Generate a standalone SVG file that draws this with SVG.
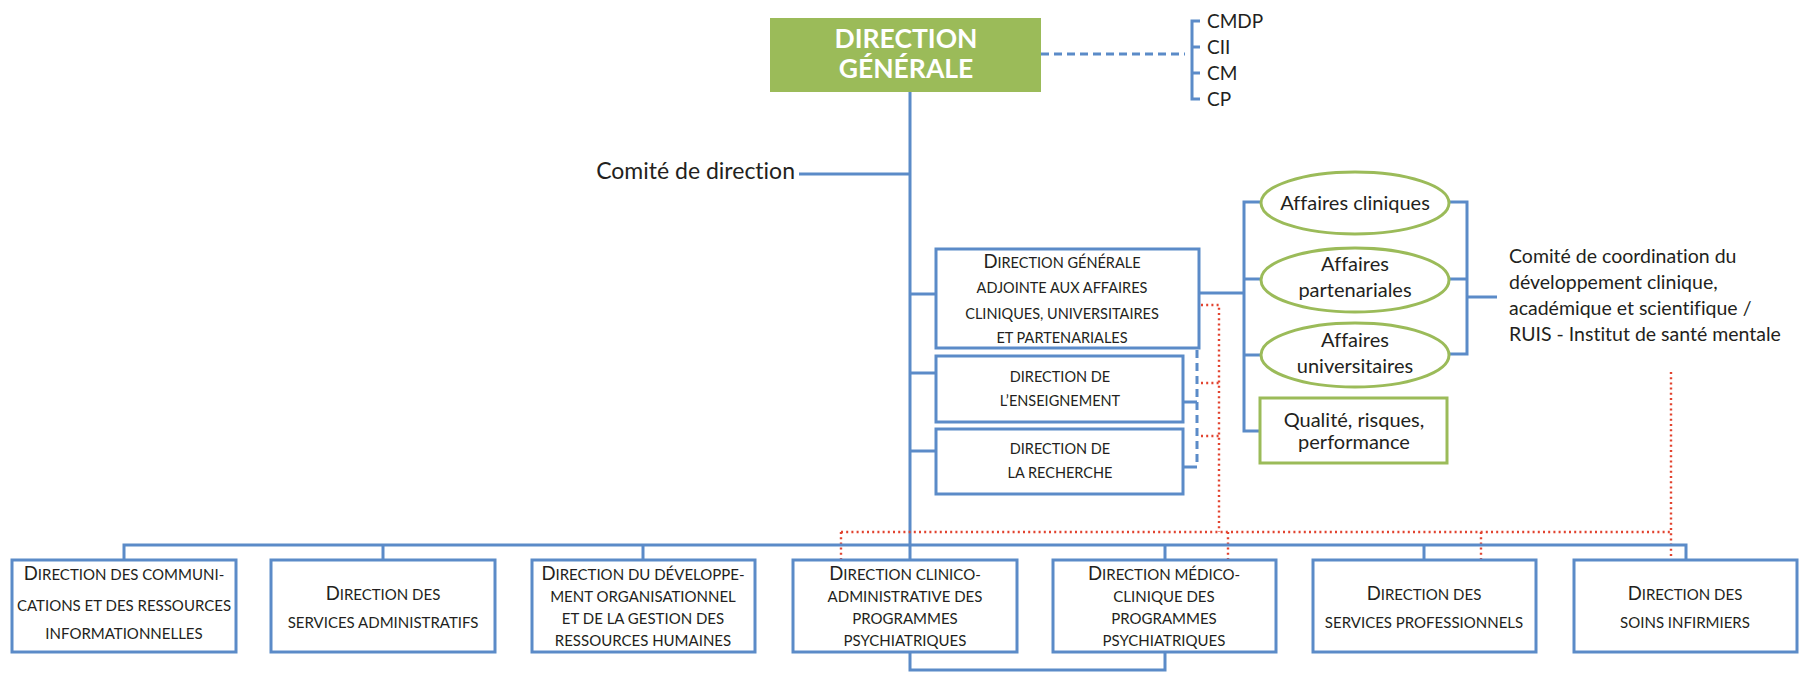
<svg xmlns="http://www.w3.org/2000/svg" width="1803" height="674" viewBox="0 0 1803 674">
<style>
text{font-family:Lato,"Liberation Sans",sans-serif;fill:#231F20;font-variant-ligatures:none}
.sc{font-size:14.5px;text-anchor:middle}
.bt{font-size:15px}
.big{font-size:18.5px}
.lbl{font-size:19px}
.el{font-size:20px}
.co{font-size:19.5px}
.mid{text-anchor:middle}
.box{fill:#fff;stroke:#5B8BC8;stroke-width:3}
.gbox{fill:#fff;stroke:#9BBB59;stroke-width:3}
.ln{fill:none;stroke:#5B8BC8;stroke-width:3}
.dash{fill:none;stroke:#5B8BC8;stroke-width:3;stroke-dasharray:8 5}
.dot{fill:none;stroke:#E2432F;stroke-width:2.4;stroke-dasharray:2 3.2}
</style>
<rect width="1803" height="674" fill="#fff"/>
<g id="connectors">
<line class="ln" x1="910" y1="92" x2="910" y2="560"/>
<line class="ln" x1="799" y1="174" x2="910" y2="174"/>
<line class="dash" x1="1041" y1="54" x2="1185" y2="54"/>
<polyline class="ln" points="1200,21 1192,21 1192,99 1200,99"/>
<line class="ln" x1="1192" y1="47" x2="1200" y2="47"/>
<line class="ln" x1="1192" y1="73" x2="1200" y2="73"/>
<line class="ln" x1="910" y1="294" x2="936" y2="294"/>
<line class="ln" x1="910" y1="373" x2="936" y2="373"/>
<line class="ln" x1="910" y1="451" x2="936" y2="451"/>
<line class="ln" x1="1199" y1="293" x2="1244" y2="293"/>
<polyline class="ln" points="1260,202 1244,202 1244,431 1260,431"/>
<line class="ln" x1="1244" y1="279" x2="1260" y2="279"/>
<line class="ln" x1="1244" y1="355" x2="1260" y2="355"/>
<polyline class="ln" points="1449,202 1467,202 1467,354 1449,354"/>
<line class="ln" x1="1449" y1="279" x2="1467" y2="279"/>
<line class="ln" x1="1467" y1="297" x2="1497" y2="297"/>
<line class="dash" x1="1197" y1="350" x2="1197" y2="467"/>
<line class="ln" x1="1184" y1="402" x2="1197" y2="402"/>
<line class="ln" x1="1184" y1="467" x2="1197" y2="467"/>
<polyline class="dot" points="1201,305 1219,305 1219,532"/>
<line class="dot" x1="1201" y1="383" x2="1219" y2="383"/>
<line class="dot" x1="1201" y1="436" x2="1219" y2="436"/>
<line class="dot" x1="841" y1="532" x2="1671" y2="532"/>
<line class="dot" x1="1671" y1="372" x2="1671" y2="560"/>
<line class="dot" x1="841" y1="532" x2="841" y2="560"/>
<line class="dot" x1="1228" y1="532" x2="1228" y2="560"/>
<line class="dot" x1="1481" y1="532" x2="1481" y2="560"/>
<polyline class="ln" points="124,560 124,545 1686,545 1686,560"/>
<line class="ln" x1="383" y1="545" x2="383" y2="560"/>
<line class="ln" x1="643" y1="545" x2="643" y2="560"/>
<line class="ln" x1="1165" y1="545" x2="1165" y2="560"/>
<line class="ln" x1="1424" y1="545" x2="1424" y2="560"/>
<polyline class="ln" points="910,652 910,670 1165,670 1165,652"/>
</g>
<g id="direction-generale">
<rect x="770" y="18" width="271" height="74" fill="#9BBB59"/>
<text x="906" y="48" class="mid" style="font-size:26.5px;font-weight:bold;fill:#fff">DIRECTION</text>
<text x="906" y="78" class="mid" style="font-size:26.5px;font-weight:bold;fill:#fff">GÉNÉRALE</text>
</g>
<g id="comites">
<text x="1207" y="28" class="lbl">CMDP</text>
<text x="1207" y="54" class="lbl">CII</text>
<text x="1207" y="80" class="lbl">CM</text>
<text x="1207" y="106" class="lbl">CP</text>
</g>
<g id="comite-direction">
<text x="795" y="179" style="font-size:23px;text-anchor:end">Comité de direction</text>
</g>
<g id="dga">
<rect class="box" x="936" y="249" width="263" height="99"/>
<text class="sc" x="1062" y="268"><tspan class="big">D</tspan>IRECTION GÉNÉRALE</text>
<text class="sc" x="1062" y="293">ADJOINTE AUX AFFAIRES</text>
<text class="sc" x="1062" y="319">CLINIQUES, UNIVERSITAIRES</text>
<text class="sc" x="1062" y="343">ET PARTENARIALES</text>
</g>
<g id="enseignement">
<rect class="box" x="936" y="356" width="247" height="66"/>
<text class="sc" x="1060" y="382">DIRECTION DE</text>
<text class="sc" x="1060" y="406">L’ENSEIGNEMENT</text>
</g>
<g id="recherche">
<rect class="box" x="936" y="429" width="247" height="65"/>
<text class="sc" x="1060" y="454">DIRECTION DE</text>
<text class="sc" x="1060" y="478">LA RECHERCHE</text>
</g>
<g id="affaires-cliniques">
<ellipse class="gbox" cx="1355" cy="203" rx="94" ry="31"/>
<text x="1355" y="210" class="el mid">Affaires cliniques</text>
</g>
<g id="affaires-partenariales">
<ellipse class="gbox" cx="1355" cy="280" rx="94" ry="32"/>
<text x="1355" y="271" class="el mid">Affaires</text>
<text x="1355" y="297" class="el mid">partenariales</text>
</g>
<g id="affaires-universitaires">
<ellipse class="gbox" cx="1355" cy="355" rx="94" ry="32"/>
<text x="1355" y="347" class="el mid">Affaires</text>
<text x="1355" y="373" class="el mid">universitaires</text>
</g>
<g id="qualite">
<rect class="gbox" x="1260" y="398" width="187" height="65"/>
<text x="1354" y="427" class="el mid">Qualité, risques,</text>
<text x="1354" y="449" class="el mid">performance</text>
</g>
<g id="comite-coordination">
<text x="1509" y="263" class="co">Comité de coordination du</text>
<text x="1509" y="289" class="co">développement clinique,</text>
<text x="1509" y="315" class="co">académique et scientifique /</text>
<text x="1509" y="341" class="co">RUIS - Institut de santé mentale</text>
</g>
<g id="communications">
<rect class="box" x="12" y="560" width="224" height="92"/>
<text class="sc bt" x="124" y="580"><tspan class="big">D</tspan>IRECTION DES COMMUNI-</text>
<text class="sc bt" x="124" y="611">CATIONS ET DES RESSOURCES</text>
<text class="sc bt" x="124" y="639">INFORMATIONNELLES</text>
</g>
<g id="services-administratifs">
<rect class="box" x="271" y="560" width="224" height="92"/>
<text class="sc bt" x="383" y="600"><tspan class="big">D</tspan>IRECTION DES</text>
<text class="sc bt" x="383" y="628">SERVICES ADMINISTRATIFS</text>
</g>
<g id="developpement-organisationnel">
<rect class="box" x="532" y="560" width="223" height="92"/>
<text class="sc bt" x="643" y="580"><tspan class="big">D</tspan>IRECTION DU DÉVELOPPE-</text>
<text class="sc bt" x="643" y="602">MENT ORGANISATIONNEL</text>
<text class="sc bt" x="643" y="624">ET DE LA GESTION DES</text>
<text class="sc bt" x="643" y="646">RESSOURCES HUMAINES</text>
</g>
<g id="clinico-administrative">
<rect class="box" x="793" y="560" width="224" height="92"/>
<text class="sc bt" x="905" y="580"><tspan class="big">D</tspan>IRECTION CLINICO-</text>
<text class="sc bt" x="905" y="602">ADMINISTRATIVE DES</text>
<text class="sc bt" x="905" y="624">PROGRAMMES</text>
<text class="sc bt" x="905" y="646">PSYCHIATRIQUES</text>
</g>
<g id="medico-clinique">
<rect class="box" x="1053" y="560" width="223" height="92"/>
<text class="sc bt" x="1164" y="580"><tspan class="big">D</tspan>IRECTION MÉDICO-</text>
<text class="sc bt" x="1164" y="602">CLINIQUE DES</text>
<text class="sc bt" x="1164" y="624">PROGRAMMES</text>
<text class="sc bt" x="1164" y="646">PSYCHIATRIQUES</text>
</g>
<g id="services-professionnels">
<rect class="box" x="1313" y="560" width="223" height="92"/>
<text class="sc bt" x="1424" y="600"><tspan class="big">D</tspan>IRECTION DES</text>
<text class="sc bt" x="1424" y="628">SERVICES PROFESSIONNELS</text>
</g>
<g id="soins-infirmiers">
<rect class="box" x="1574" y="560" width="223" height="92"/>
<text class="sc bt" x="1685" y="600"><tspan class="big">D</tspan>IRECTION DES</text>
<text class="sc bt" x="1685" y="628">SOINS INFIRMIERS</text>
</g>
</svg>
